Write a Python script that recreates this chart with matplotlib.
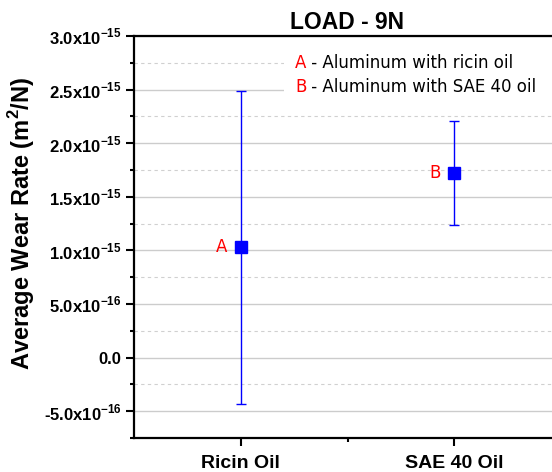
import numpy as np
import matplotlib
matplotlib.use('Agg')
import matplotlib.pyplot as plt
from matplotlib.patches import Rectangle
from matplotlib.ticker import FixedLocator, MultipleLocator

config = {
    "font.family": ['Liberation Sans', 'DejaVu Sans'],
    "mathtext.fontset": 'custom',
    "mathtext.rm": 'Liberation Sans',
    "mathtext.bf": 'Liberation Sans:bold',
}
plt.rcParams.update(config)

# data
categories = ['Ricin Oil', 'SAE 40 Oil']
point_labels = ['A', 'B']
wear_rate = [1.03e-15, 1.72e-15]
wear_err = [1.46e-15, 0.487e-15]
legend_lines = [' - Aluminum with ricin oil', ' - Aluminum with SAE 40 oil']
y_ticks = [-5e-16, 0.0, 5e-16, 1.0e-15, 1.5e-15, 2.0e-15, 2.5e-15, 3.0e-15]
y_tick_labels = [r'-5.0x10$^{\mathbf{-16}}$', '0.0', r'5.0x10$^{\mathbf{-16}}$',
                 r'1.0x10$^{\mathbf{-15}}$', r'1.5x10$^{\mathbf{-15}}$',
                 r'2.0x10$^{\mathbf{-15}}$', r'2.5x10$^{\mathbf{-15}}$',
                 r'3.0x10$^{\mathbf{-15}}$']

fig = plt.figure(figsize=(5.52, 4.72), dpi=100)
ax = fig.add_axes([134 / 552, 34 / 472, 427 / 552, 402 / 472])

x = np.arange(len(categories))
ax.errorbar(x, wear_rate, yerr=wear_err, fmt='s', color='#0000ff', ecolor='#0000ff',
            elinewidth=1.0, capsize=3.5, capthick=1.0, markersize=8.5, zorder=3)
for xi, yi, lab in zip(x, wear_rate, point_labels):
    ax.annotate(lab, xy=(xi, yi), xytext=(-10, 0), textcoords='offset points',
                ha='right', va='center', color='#ff0000', fontsize=12,
                family='DejaVu Sans')

ax.set_xlim(-0.5, 1.5)
ax.set_ylim(-7.5e-16, 3.0e-15)
ax.set_xticks(x)
ax.set_xticklabels(categories, fontsize=14, fontweight='bold')
ax.xaxis.set_minor_locator(FixedLocator([0.5]))
ax.yaxis.set_major_locator(FixedLocator(y_ticks))
ax.set_yticklabels(y_tick_labels, fontsize=12, fontweight='bold')
ax.yaxis.set_minor_locator(MultipleLocator(2.5e-16))

ax.tick_params(which='major', direction='out', length=6, width=1.5, pad=3)
ax.tick_params(which='minor', direction='out', length=3, width=1.5)
ax.tick_params(axis='x', which='major', pad=6)
for s in ax.spines.values():
    s.set_linewidth(1.6)

ax.set_axisbelow(True)
ax.grid(axis='y', which='major', color='#cccccc', linewidth=1.0)
ax.grid(axis='y', which='minor', color='#d0d0d0', linewidth=0.8, linestyle=(0, (3, 3)))

ax.set_title('LOAD - 9N', fontsize=16.5, fontweight='bold', pad=5)
ax.set_ylabel(r'Average Wear Rate (m$^{\mathbf{2}}$/N)', fontsize=17, fontweight='bold')
ax.yaxis.set_label_coords(-0.227, 0.535)

# legend box
ax.add_patch(Rectangle((0.351, 0.841), 0.65, 0.124, transform=ax.transAxes,
                       facecolor='white', edgecolor='none', zorder=1.5))
for i, (lab, txt) in enumerate(zip(point_labels, legend_lines)):
    ty = (438 - 72 - 24 * i) / 402
    t = ax.text((295 - 134) / 427, ty, lab, transform=ax.transAxes, color='#ff0000',
                fontsize=12, family='DejaVu Sans', va='bottom', zorder=4)
    ax.annotate(txt, xy=(1, 0), xycoords=t, va='bottom', color='black',
                fontsize=12, family='DejaVu Sans', zorder=4)

plt.savefig('out.png', dpi=100)
